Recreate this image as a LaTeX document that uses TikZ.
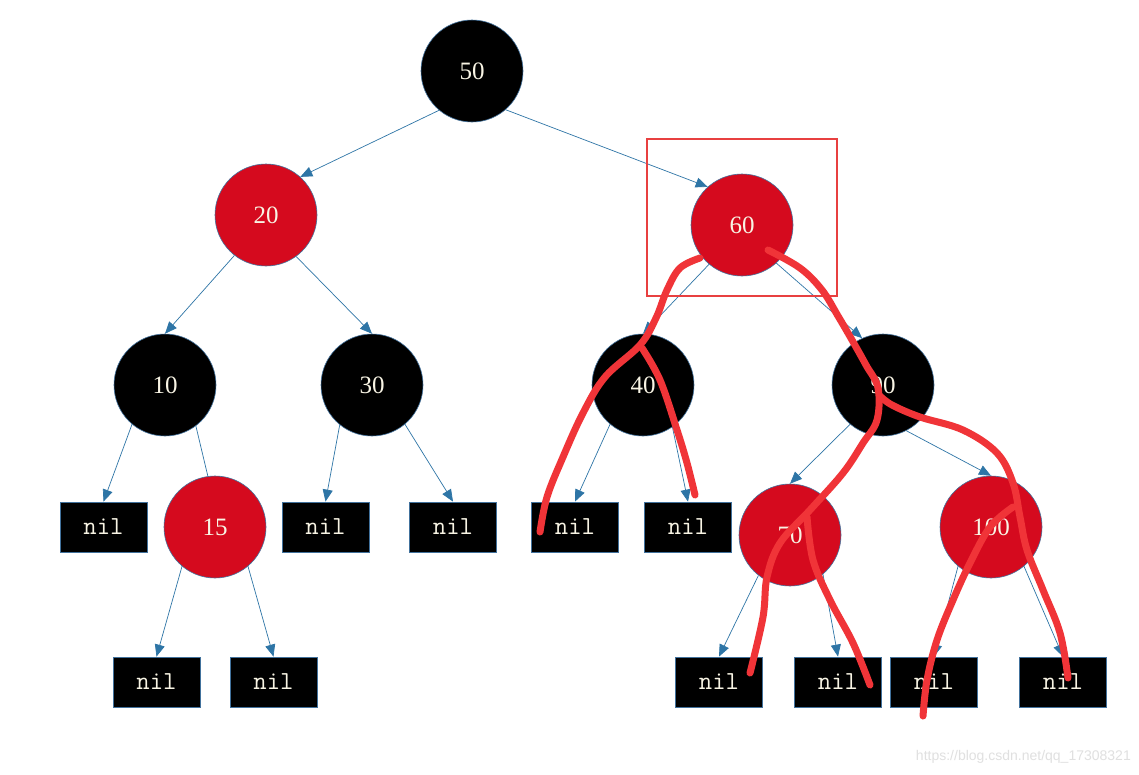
\documentclass[tikz,border=0pt]{standalone}
\usepackage{fontspec}
\setmainfont{Liberation Serif}
\newfontfamily\wmfont{Liberation Sans}
\usetikzlibrary{arrows.meta}
\definecolor{rbred}{RGB}{213,10,30}
\definecolor{edgeblue}{RGB}{46,117,166}
\definecolor{bordblue}{RGB}{65,113,156}
\definecolor{txt}{RGB}{248,244,228}
\definecolor{scrib}{RGB}{240,52,56}
\definecolor{boxred}{RGB}{232,64,64}
\tikzset{
  blk/.style={circle,fill=black,draw=bordblue,line width=0.6pt,minimum size=102pt,inner sep=0pt,text=txt,font=\fontsize{25}{28}\selectfont},
  rdn/.style={blk,fill=rbred},
  nilbox/.style={rectangle,fill=black,draw=bordblue,line width=0.8pt,minimum width=87pt,minimum height=50pt,inner sep=0pt,text=txt,font=\ttfamily\fontsize{26}{28}\selectfont},
  edge/.style={draw=edgeblue,line width=0.7pt,-{Triangle[length=12pt,width=10pt]}},
  plainedge/.style={draw=edgeblue,line width=0.7pt},
  scribble/.style={draw=scrib,line width=7pt,line cap=round,line join=round},
}
\begin{document}
\begin{tikzpicture}[x=1pt,y=-1pt]
\useasboundingbox (0,0) rectangle (1139,774);
\fill[white] (0,0) rectangle (1139,774);
% nodes
\node[blk] (n50) at (472,71) {50};
\node[rdn] (n20) at (266,215) {20};
\node[rdn] (n60) at (742,225) {60};
\node[blk] (n10) at (165,385) {10};
\node[blk] (n30) at (372,385) {30};
\node[blk] (n40) at (643,385) {40};
\node[blk] (n90) at (883,385) {90};
\node[rdn] (n15) at (215,527) {15};
\node[rdn] (n70) at (790,535) {70};
\node[rdn] (n100) at (991,527) {100};
\node[nilbox] (a1) at (103.5,527) {nil};
\node[nilbox] (a2) at (156.5,682) {nil};
\node[nilbox] (a3) at (273.5,682) {nil};
\node[nilbox] (a4) at (325.5,527) {nil};
\node[nilbox] (a5) at (453,527) {nil};
\node[nilbox] (a6) at (575,527) {nil};
\node[nilbox] (a7) at (688,527) {nil};
\node[nilbox] (a8) at (719,682) {nil};
\node[nilbox] (a9) at (838,682) {nil};
\node[nilbox] (a10) at (934,682) {nil};
\node[nilbox] (a11) at (1063,682) {nil};
% edges
\draw[edge] (n50.230) -- (n20.48);
\draw[edge] (n50.311) -- (n60.132);
\draw[edge] (n20.232) -- (n10.north);
\draw[edge] (n20.306) -- (n30.north);
\draw[edge] (n60.230) -- (n40.north);
\draw[edge] (n60.312) -- (n90.114);
\draw[edge] (n10.230) -- (a1.north);
\draw[plainedge] (n10.307) -- (n15.98);
\draw[edge] (n15.230) -- (a2.north);
\draw[edge] (n15.310) -- (a3.north);
\draw[edge] (n30.231) -- (a4.north);
\draw[edge] (n30.310) -- (a5.north);
\draw[edge] (n40.230) -- (a6.north);
\draw[edge] (n40.305) -- (a7.north);
\draw[edge] (n90.230) -- (n70.north);
\draw[edge] (n90.297) -- (n100.north);
\draw[edge] (n70.232) -- (a8.north);
\draw[edge] (n70.310) -- (a9.north);
\draw[edge] (n100.230) -- (a10.north);
\draw[edge] (n100.310) -- (a11.north);
% highlight box
\node[draw=boxred,line width=2.6pt,minimum width=190pt,minimum height=157pt,inner sep=0pt] (hl) at (742,217.5) {};
% scribbles
\draw[scribble] plot[smooth,tension=0.6] coordinates {(700,258) (680,268) (667,290) (656,318) (640,345) (605,377) (583,413) (563,457) (547,497) (540,532)};
\draw[scribble] plot[smooth,tension=0.6] coordinates {(642,348) (660,380) (677,430) (687,463) (695,495)};
\draw[scribble] plot[smooth,tension=0.6] coordinates {(768,250) (800,268) (822,290) (838,316) (852,340) (866,365) (878,388) (877,420) (863,443) (843,473) (810,510) (780,543) (767,577) (763,617) (750,673)};
\draw[scribble] plot[smooth,tension=0.6] coordinates {(807,517) (813,560) (830,600) (853,643) (870,685)};
\draw[scribble] plot[smooth,tension=0.6] coordinates {(880,396) (892,405) (920,417) (963,430) (997,453) (1013,483) (1020,517) (1027,550) (1043,590) (1060,633) (1068,678)};
\draw[scribble] plot[smooth,tension=0.6] coordinates {(1013,507) (990,527) (970,563) (953,600) (937,640) (927,680) (923,716)};
% watermark
\node[anchor=east,text=black!12,font=\wmfont\fontsize{14}{16}\selectfont,inner sep=0pt] (wm) at (1131,757) {https://blog.csdn.net/qq\_17308321};
\end{tikzpicture}
\end{document}
